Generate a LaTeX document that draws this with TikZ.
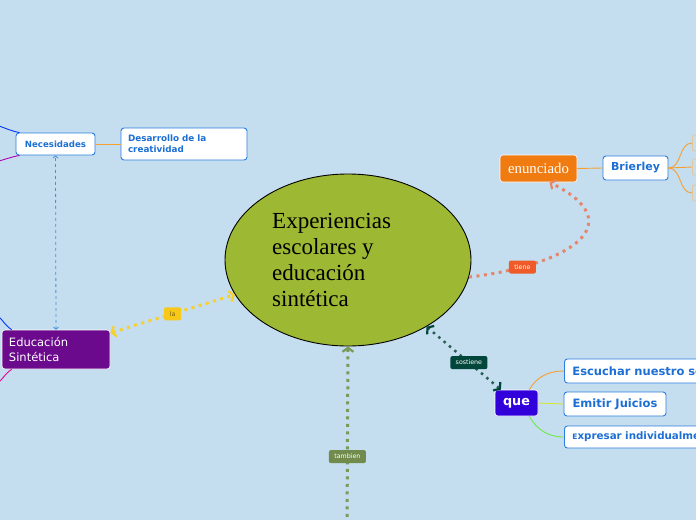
\documentclass[tikz,border=0pt]{standalone}
\usepackage{fontspec}
\setmainfont{DejaVu Sans}
\newfontfamily\tnr{Liberation Serif}
\usetikzlibrary{arrows.meta,shapes.geometric,calc}
\definecolor{bgc}{RGB}{196,222,240}
\definecolor{olivefill}{RGB}{157,184,50}
\definecolor{bluebd}{RGB}{43,125,224}
\definecolor{bluetx}{RGB}{28,111,212}
\definecolor{eduf}{RGB}{107,10,140}
\definecolor{enunf}{RGB}{240,123,16}
\definecolor{quef}{RGB}{50,0,218}
\definecolor{yel}{RGB}{247,208,46}
\definecolor{yellab}{RGB}{247,200,24}
\definecolor{yeltx}{RGB}{120,96,10}
\definecolor{salm}{RGB}{229,134,107}
\definecolor{tienef}{RGB}{240,90,40}
\definecolor{dgreen}{RGB}{40,95,82}
\definecolor{sostf}{RGB}{0,70,58}
\definecolor{olv}{RGB}{122,154,90}
\definecolor{olvf}{RGB}{112,139,76}
\definecolor{orgl}{RGB}{245,160,48}
\definecolor{ygl}{RGB}{212,232,48}
\definecolor{grl}{RGB}{110,232,74}
\definecolor{tan}{RGB}{227,199,156}
\definecolor{dashbl}{RGB}{70,145,220}
\begin{document}
\begin{tikzpicture}[x=1pt,y=-1pt,
  wbox/.style={draw=bluebd,fill=white,rounded corners=3pt,line width=0.9pt,text=bluetx,font=\bfseries,inner sep=0pt},
  lab/.style={rounded corners=2pt,inner sep=0pt,minimum height=13pt,font=\fontsize{6.3}{7}\selectfont,text=white},
  dotl/.style={line width=3pt,dash pattern=on 3pt off 4.5pt},
  tip/.style={-{Straight Barb[length=4pt,width=10pt,line width=2.2pt]}}
]
\useasboundingbox (0,0) rectangle (696,520);
\fill[bgc] (0,0) rectangle (696,520);
\clip (0,0) rectangle (696,520);

% central ellipse
\node[ellipse,draw=black,line width=0.9pt,fill=olivefill,minimum width=246pt,minimum height=172pt,inner sep=0pt] (main) at (348,260) {};
\node[align=left,font=\tnr\fontsize{23}{26}\selectfont,inner sep=0pt,anchor=north west] (maintext) at (272,213) {Experiencias\\escolares y\\educación\\sintética};

% left nodes
\node[wbox,minimum width=79pt,minimum height=22pt,font=\bfseries\fontsize{8.6}{10}\selectfont] (nec) at (55.5,144) {Necesidades};
\node[wbox,minimum width=126pt,minimum height=32pt,align=left,text width=112pt,font=\bfseries\fontsize{8.8}{11}\selectfont] (des) at (184,144) {Desarrollo de la\\creatividad};
\node[fill=eduf,draw=white,line width=0.6pt,rounded corners=3pt,minimum width=108pt,minimum height=39pt,text width=94pt,align=left,inner sep=0pt,text=white,font=\fontsize{11.5}{15}\selectfont] (edu) at (56,349.5) {Educación\\Sintética};

% right nodes
\node[fill=enunf,draw=white,line width=0.6pt,rounded corners=3pt,minimum width=77pt,minimum height=27pt,inner sep=0pt,text=white,font=\tnr\fontsize{14.8}{16}\selectfont] (enun) at (538.5,168.5) {enunciado};
\node[wbox,minimum width=65pt,minimum height=24pt,font=\bfseries\fontsize{11}{12}\selectfont] (bri) at (635.5,168) {Brierley};
\node[draw=tan,line width=0.9pt,rounded corners=2pt,minimum width=30pt,minimum height=16pt,anchor=west,inner sep=0pt] (r1) at (692,143) {};
\node[draw=tan,line width=0.9pt,rounded corners=2pt,minimum width=30pt,minimum height=16pt,anchor=west,inner sep=0pt] (r2) at (692,167) {};
\node[draw=tan,line width=0.9pt,rounded corners=2pt,minimum width=30pt,minimum height=16pt,anchor=west,inner sep=0pt] (r3) at (692,193) {};

\node[fill=quef,draw=white,line width=0.6pt,rounded corners=3pt,minimum width=43pt,minimum height=26pt,inner sep=0pt,text=white,font=\bfseries\fontsize{12.8}{14}\selectfont] (que) at (516.5,403) {que};
\node[wbox,anchor=west,minimum height=24pt,align=left,text width=150pt,font=\bfseries\fontsize{11.5}{13}\selectfont] (esc) at (564,371) {\hspace*{8pt}Escuchar nuestro se};
\node[wbox,minimum width=102pt,minimum height=24pt,font=\bfseries\fontsize{11.5}{13}\selectfont] (emi) at (615,404) {Emitir Juicios};
\node[wbox,anchor=west,minimum height=22pt,align=left,text width=170pt,font=\bfseries\fontsize{10.3}{12}\selectfont] (exp) at (564,437) {\hspace*{8pt}{\fontsize{7.5}{9}\selectfont E}xpresar individualme};

% connector end points
\coordinate (bot) at (347,530);
\coordinate (nb1) at (-20,124);
\coordinate (nb2) at (-20,162);
\coordinate (eb1) at (-10,315);
\coordinate (eb2) at (-10,384);

% thin connectors
\draw[orgl,line width=0.9pt] (nec.east) -- (des.west);
\draw[orgl,line width=0.9pt] (enun.east) -- (bri.west);
\draw[orgl,line width=0.9pt] (bri.east) to[out=0,in=180] (r1.west);
\draw[orgl,line width=0.9pt] (bri.east) -- (r2.west);
\draw[orgl,line width=0.9pt] (bri.east) to[out=0,in=180] (r3.west);
\draw[orgl,line width=0.9pt] ($(que.north east)+(-9,0)$) to[out=60,in=180] (esc.west);
\draw[ygl,line width=0.9pt] (que.east) -- (emi.west);
\draw[grl,line width=0.9pt] ($(que.south east)+(-9,0)$) to[out=-60,in=180] (exp.west);
\draw[blue!80!cyan,line width=0.9pt] ($(nec.north west)+(4,0)$) to[out=170,in=10] (nb1);
\draw[violet!60!magenta,line width=0.9pt] ($(nec.south west)+(4,0)$) to[out=190,in=-10] (nb2);
\draw[blue!80!cyan,line width=0.9pt] ($(edu.north west)+(10,0)$) to[out=150,in=20] (eb1);
\draw[magenta,line width=0.9pt] ($(edu.south west)+(10,0)$) to[out=210,in=-20] (eb2);
\draw[dashbl,line width=0.8pt,dashed,{Straight Barb[length=2pt,width=5pt]}-{Straight Barb[length=2pt,width=5pt]}] (edu.north) -- (nec.south);

% dotted relations
\draw[yel,dotl,{Straight Barb[length=4pt,width=11pt,line width=2.2pt]}-{Straight Barb[length=4pt,width=11pt,line width=2.2pt]}] (edu) -- (main)
  node[pos=0.5,lab,fill=yellab,minimum width=17pt,text=yeltx] (la) {la};
\draw[salm,dotl,tip] (main.-8) .. controls (565,266) and (635,225) .. ($(enun.south)+(11,0)$)
  node[pos=0.2,lab,fill=tienef,minimum width=27pt] (tiene) {tiene};
\draw[dgreen,line width=2.5pt,dash pattern=on 2.5pt off 4.5pt,{Straight Barb[length=4pt,width=11pt,line width=2.2pt,color=sostf]}-{Straight Barb[length=4pt,width=11pt,line width=2.2pt,color=sostf]}] (que) -- (main)
  node[pos=0.43,lab,fill=sostf,minimum width=37pt] (sost) {sostiene};
\draw[olv,dotl,{Straight Barb[length=4pt,width=11pt,line width=2.2pt]}-] (main.south) -- (bot)
  node[pos=0.6,lab,fill=olvf,minimum width=37pt] (tamb) {tambien};
\end{tikzpicture}
\end{document}
